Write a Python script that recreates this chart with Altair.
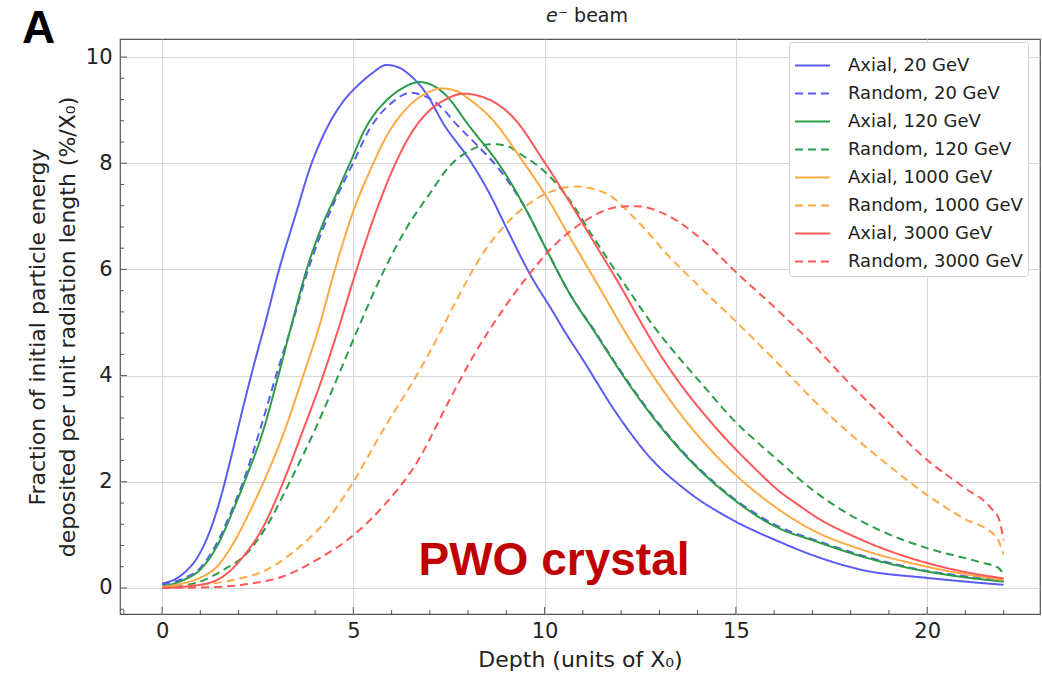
import altair as alt
import pandas as pd

# ---------------- data ----------------
SERIES = ["Axial, 20 GeV", "Random, 20 GeV", "Axial, 120 GeV", "Random, 120 GeV",
          "Axial, 1000 GeV", "Random, 1000 GeV", "Axial, 3000 GeV", "Random, 3000 GeV"]

ax20_x = [0.0, 0.3, 0.6, 0.9, 1.2, 1.5, 1.8, 2.1, 2.4, 2.7, 3.04, 3.5, 3.86, 4.3, 4.69, 5.17, 5.5, 5.87,
          6.2, 6.43, 6.91, 7.35, 8.04, 8.56, 8.99, 9.61, 10.22, 10.5, 11.0, 11.87, 12.74, 13.7, 14.92,
          16.14, 17.0, 18.3, 20.0, 21.0, 22.0]
ax20_y = [0.09, 0.15, 0.3, 0.55, 0.98, 1.62, 2.45, 3.35, 4.2, 5.0, 5.95, 7.05, 7.9, 8.65, 9.12, 9.5, 9.7, 9.85,
          9.8, 9.69, 9.31, 8.75, 8.06, 7.43, 6.8, 5.92, 5.2, 4.86, 4.3, 3.3, 2.47, 1.84, 1.28,
          0.87, 0.62, 0.34, 0.19, 0.12, 0.06]

ra20_x = [0.0, 0.56, 0.99, 1.43, 1.86, 2.12, 2.56, 2.98, 3.39, 3.82, 4.4, 4.99, 5.43, 6.04, 6.5, 6.88,
          7.35, 7.61, 8.22, 8.74, 9.52, 10.05, 10.65, 11.31, 12.05, 12.83, 13.7, 14.92, 16.14, 17.0,
          18.31, 20.0, 21.0, 22.0]
ra20_y = [0.06, 0.18, 0.37, 0.84, 1.53, 2.0, 2.98, 4.0, 4.95, 6.0, 7.1, 8.0, 8.65, 9.16, 9.33, 9.26,
          9.02, 8.8, 8.35, 7.95, 7.12, 6.37, 5.55, 4.84, 4.02, 3.24, 2.5, 1.7, 1.15, 0.92,
          0.61, 0.32, 0.22, 0.13]

ax120_x = [0.0, 0.56, 0.99, 1.43, 1.86, 2.21, 2.65, 3.04, 3.4, 3.78, 4.2, 4.56, 4.91, 5.34, 5.78, 6.3,
           6.73, 7.35, 8.04, 8.91, 9.52, 10.05, 10.65, 11.31, 12.05, 12.83, 13.7, 14.92, 16.14, 17.0,
           18.31, 20.0, 21.0, 22.0]
ax120_y = [0.03, 0.15, 0.34, 0.78, 1.47, 2.1, 2.98, 4.0, 5.0, 6.0, 6.85, 7.43, 8.0, 8.69, 9.12, 9.42,
           9.53, 9.33, 8.69, 7.87, 7.12, 6.37, 5.55, 4.82, 4.0, 3.22, 2.48, 1.68, 1.12, 0.9,
           0.59, 0.31, 0.2, 0.12]

ra120_x = [0.0, 0.99, 1.6, 2.21, 2.73, 3.34, 4.04, 4.56, 5.13, 5.78, 6.39, 7.0, 7.52, 8.0, 8.6, 9.0,
           9.35, 10.05, 10.65, 11.26, 12.13, 12.83, 13.7, 14.04, 15.0, 15.79, 16.14, 17.0, 17.88,
           18.75, 20.0, 21.36, 21.88, 22.0]
ra120_y = [0.0, 0.12, 0.34, 0.65, 1.16, 2.0, 3.05, 3.92, 4.9, 5.95, 6.78, 7.43, 7.95, 8.22, 8.36, 8.33,
           8.18, 7.81, 7.31, 6.62, 5.68, 4.95, 4.18, 3.9, 3.12, 2.6, 2.38, 1.85, 1.42,
           1.09, 0.75, 0.49, 0.37, 0.24]

ax1000_x = [0.0, 0.56, 0.99, 1.43, 1.86, 2.3, 2.73, 3.17, 3.69, 4.08, 4.52, 5.0, 5.43, 5.9, 6.35, 7.0,
            7.3, 7.7, 8.04, 8.65, 9.35, 10.05, 10.65, 11.52, 12.0, 12.74, 13.61, 14.92, 16.14, 17.0,
            18.31, 20.0, 21.0, 22.0]
ax1000_y = [0.02, 0.09, 0.19, 0.4, 0.84, 1.45, 2.12, 2.9, 4.0, 4.86, 6.0, 7.1, 7.85, 8.55, 9.0, 9.35,
            9.41, 9.36, 9.2, 8.81, 8.12, 7.37, 6.62, 5.55, 4.95, 4.1, 3.22, 2.18, 1.47, 1.09,
            0.72, 0.4, 0.26, 0.15]

ra1000_x = [0.0, 0.99, 1.86, 2.73, 3.6, 4.39, 5.0, 5.78, 6.65, 7.26, 7.61, 8.48, 9.35, 10.05, 10.83,
            11.61, 12.4, 13.26, 14.13, 15.0, 16.14, 17.0, 17.88, 18.75, 20.0, 20.93,
            21.8, 22.0]
ra1000_y = [0.0, 0.06, 0.15, 0.34, 0.78, 1.35, 2.0, 2.98, 4.0, 4.8, 5.3, 6.4, 7.1, 7.43, 7.56,
            7.43, 6.93, 6.24, 5.62, 5.02, 4.2, 3.56, 2.97, 2.45, 1.75, 1.32,
            0.97, 0.63]

ax3000_x = [0.0, 0.99, 1.6, 2.12, 2.65, 3.17, 3.69, 4.21, 4.6, 5.0, 5.5, 6.04, 6.5, 7.0, 7.36, 7.87, 8.48,
            9.17, 9.96, 10.57, 11.26, 12.13, 12.48, 13.0, 13.44, 14.4, 15.44, 16.14, 16.66, 17.0,
            18.31, 20.0, 21.0, 22.0]
ax3000_y = [0.0, 0.06, 0.22, 0.59, 1.16, 2.0, 2.98, 4.0, 4.86, 5.8, 6.9, 7.9, 8.55, 9.0, 9.18, 9.31, 9.22,
            8.87, 8.06, 7.37, 6.55, 5.5, 5.05, 4.42, 3.95, 3.08, 2.29, 1.82, 1.55, 1.38,
            0.9, 0.47, 0.3, 0.18]

ra3000_x = [0.0, 1.43, 2.3, 3.17, 4.04, 4.91, 5.78, 6.65, 7.52, 8.13, 8.91, 9.61, 10.22, 11.09, 11.96,
            12.4, 13.26, 14.13, 15.0, 16.14, 17.0, 17.88, 18.75, 20.0, 20.93, 21.71, 21.88, 22.0]
ra3000_y = [0.0, 0.02, 0.08, 0.22, 0.53, 0.94, 1.54, 2.35, 3.55, 4.36, 5.24, 5.92, 6.43, 6.93, 7.18,
            7.19, 7.0, 6.55, 5.95, 5.2, 4.6, 3.92, 3.29, 2.41, 1.91, 1.47, 1.29, 0.9]

X_LIST = [ax20_x, ra20_x, ax120_x, ra120_x, ax1000_x, ra1000_x, ax3000_x, ra3000_x]
Y_LIST = [ax20_y, ra20_y, ax120_y, ra120_y, ax1000_y, ra1000_y, ax3000_y, ra3000_y]

X_TICKS_MAJOR = [0, 5, 10, 15, 20]
X_TICKS_MINOR = [-1, 1, 2, 3, 4, 6, 7, 8, 9, 11, 12, 13, 14, 16, 17, 18, 19, 21, 22]
Y_TICKS_MAJOR = [0, 2, 4, 6, 8, 10]
Y_TICKS_MINOR = [-0.4, 0.4, 0.8, 1.2, 1.6, 2.4, 2.8, 3.2, 3.6, 4.4, 4.8, 5.2, 5.6, 6.4, 6.8, 7.2, 7.6,
                 8.4, 8.8, 9.2, 9.6]

TITLE_E = ["e"]
TITLE_REST = ["\u207b beam"]
X_TITLE = "Depth (units of X\u2080)"
Y_TITLE = ["Fraction of initial particle energy", "deposited per unit radiation length (%/X\u2080)"]
PANEL_LABEL = ["A"]
NOTE = ["PWO crystal"]

# ---------------- styles ----------------
COLORS = ["#5b5bf6", "#5b5bf6", "#2c9c48", "#2c9c48", "#ffa945", "#ffa945", "#ff5757", "#ff5757"]
DASHES = [[1, 0], [8, 5], [1, 0], [8, 5], [1, 0], [8, 5], [1, 0], [8, 5]]
W, H = 920, 575
FONT = "DejaVu Sans"

rows = []
for i, name in enumerate(SERIES):
    for xv, yv in zip(X_LIST[i], Y_LIST[i]):
        rows.append({"series": name, "depth": xv, "value": yv})
df = pd.DataFrame(rows)

xscale = alt.Scale(domain=[-1.1, 22.95], nice=False, zero=False)
yscale = alt.Scale(domain=[-0.49, 10.34], nice=False, zero=False)

leg = alt.Legend(
    title=None, orient="none", legendX=669, legendY=3,
    symbolType="stroke", symbolSize=1225, symbolStrokeWidth=2,
    labelFont=FONT, labelFontSize=18, labelColor="#222222", labelLimit=400, labelOffset=17,
    padding=5, rowPadding=-9, fillColor="white", strokeColor="#d0d0d0", cornerRadius=3,
)

lines = alt.Chart(df).mark_line(strokeWidth=2, interpolate="monotone").encode(
    x=alt.X("depth:Q", scale=xscale,
            axis=alt.Axis(title=X_TITLE, values=X_TICKS_MAJOR, format="d")),
    y=alt.Y("value:Q", scale=yscale,
            axis=alt.Axis(title=Y_TITLE, values=Y_TICKS_MAJOR, format="d")),
    color=alt.Color("series:N", scale=alt.Scale(domain=SERIES, range=COLORS), legend=leg,
                    sort=SERIES),
    strokeDash=alt.StrokeDash("series:N", scale=alt.Scale(domain=SERIES, range=DASHES), legend=leg,
                              sort=SERIES),
    order="depth:Q",
)

tick_color = "#555555"
xt_major = alt.Chart(pd.DataFrame({"depth": X_TICKS_MAJOR})).mark_rule(color=tick_color).encode(
    x="depth:Q", y=alt.value(H), y2=alt.value(H - 7))
xt_minor = alt.Chart(pd.DataFrame({"depth": X_TICKS_MINOR})).mark_rule(color=tick_color).encode(
    x="depth:Q", y=alt.value(H), y2=alt.value(H - 4))
yt_major = alt.Chart(pd.DataFrame({"value": Y_TICKS_MAJOR})).mark_rule(color=tick_color).encode(
    y="value:Q", x=alt.value(0), x2=alt.value(7))
yt_minor = alt.Chart(pd.DataFrame({"value": Y_TICKS_MINOR})).mark_rule(color=tick_color).encode(
    y="value:Q", x=alt.value(0), x2=alt.value(4))

title_e = alt.Chart(pd.DataFrame({"t": TITLE_E})).mark_text(
    font=FONT, fontSize=19, fontStyle="italic", color="#222222", align="left",
    baseline="alphabetic").encode(text="t:N", x=alt.value(426), y=alt.value(-17))
title_rest = alt.Chart(pd.DataFrame({"t": TITLE_REST})).mark_text(
    font=FONT, fontSize=19, color="#222222", align="left",
    baseline="alphabetic").encode(text="t:N", x=alt.value(438), y=alt.value(-17))

panel = alt.Chart(pd.DataFrame({"t": PANEL_LABEL})).mark_text(
    font="Liberation Sans", fontSize=46, fontWeight="bold", color="black",
    align="left", baseline="alphabetic").encode(text="t:N", x=alt.value(-98), y=alt.value(4))

note = alt.Chart(pd.DataFrame({"t": NOTE})).mark_text(
    font="Liberation Sans", fontSize=46, fontWeight="bold", color="#c00000",
    align="center", baseline="alphabetic").encode(text="t:N", x=alt.value(434), y=alt.value(536))

chart = alt.layer(lines, xt_major, xt_minor, yt_major, yt_minor, title_e, title_rest, panel,
                  note).properties(
    width=W, height=H,
    autosize=alt.AutoSizeParams(type="none"),
    padding={"left": 120, "top": 39, "right": 2, "bottom": 60},
    background="white",
).configure_view(
    stroke="#555555", strokeWidth=1.2
).configure_axis(
    grid=True, gridColor="#d6d6d6", gridWidth=1, domain=False, ticks=False,
    labelFont=FONT, labelFontSize=21, labelColor="#222222",
    titleFont=FONT, titleFontSize=22, titleFontWeight="normal", titleColor="#222222",
).configure_axisX(
    labelPadding=6, titlePadding=8
).configure_axisY(
    labelPadding=8, titlePadding=6, titleLineHeight=30
)

chart.save("out.html", embed_options={"renderer": "svg", "actions": False})
